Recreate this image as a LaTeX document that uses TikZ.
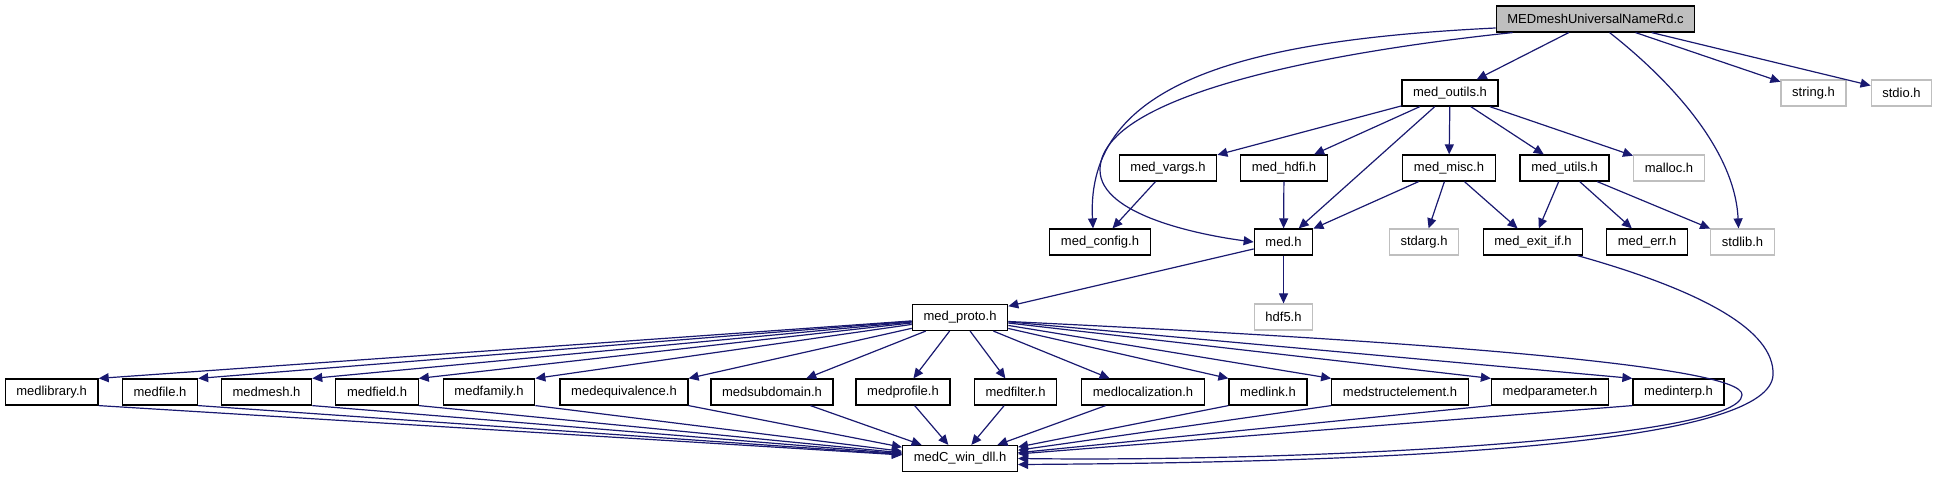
\documentclass[tikz,border=0pt]{standalone}
\usepackage{fontspec}
\setmainfont{Liberation Sans}
\usetikzlibrary{arrows.meta}
\definecolor{edgeblue}{HTML}{191970}
\definecolor{sysgray}{HTML}{BFBFBF}

\begin{document}
\begin{tikzpicture}[x=0.5pt,y=-0.5pt,>={Triangle[length=5pt,width=4.5pt]},
  box/.style={draw=black,line width=0.6pt,font=\fontsize{6.5}{7.5}\selectfont,
    inner xsep=5.6pt,inner ysep=0pt,minimum height=13pt},
  sysbox/.style={box,draw=sysgray},
  edge/.style={->,edgeblue,line width=0.6pt}]
  \useasboundingbox (0,0) rectangle (1937,485);
  \node[box,fill=sysgray] (root) at (1595.5,19) {MEDmeshUniversalNameRd.c};
  \node[box] (outils) at (1450,93) {med\_outils.h};
  \node[sysbox] (string) at (1813.5,93) {string.h};
  \node[sysbox] (stdio) at (1901.5,93) {stdio.h};
  \node[box] (vargs) at (1168,168) {med\_vargs.h};
  \node[box] (hdfi) at (1284,168) {med\_hdfi.h};
  \node[box] (misc) at (1449,168) {med\_misc.h};
  \node[box] (utils) at (1564.5,168) {med\_utils.h};
  \node[sysbox] (malloc) at (1669,168) {malloc.h};
  \node[box] (config) at (1100,242) {med\_config.h};
  \node[box] (med) at (1283.5,242) {med.h};
  \node[sysbox] (stdarg) at (1424,242) {stdarg.h};
  \node[box] (exitif) at (1533,242) {med\_exit\_if.h};
  \node[box] (err) at (1647,242) {med\_err.h};
  \node[sysbox] (stdlib) at (1742.5,242) {stdlib.h};
  \node[box] (proto) at (960,317.5) {med\_proto.h};
  \node[sysbox] (hdf) at (1283.5,317) {hdf5.h};
  \node[box] (dll) at (960,458.5) {medC\_win\_dll.h};
  \foreach \n/\x/\t in {library/51.6/medlibrary.h, file/160/medfile.h,
      mesh/266.5/medmesh.h, field/377/medfield.h, family/489/medfamily.h,
      equivalence/624/medequivalence.h, subdomain/772/medsubdomain.h,
      profile/903/medprofile.h, filter/1015.5/medfilter.h,
      localization/1143/medlocalization.h, link/1268/medlink.h,
      structelement/1400/medstructelement.h, parameter/1550/medparameter.h,
      interp/1678.5/medinterp.h}
    {\node[box] (\n) at (\x,392) {\t};}

  \draw[edge] ([yshift=-4.5pt]root.west) .. controls (1250,40) and (1085,80) .. ([xshift=-3.5pt]config.north);
  \draw[edge] ([xshift=8.5pt]root.south west) .. controls (1300,55) and (1100,100) .. (1100,170)
    .. controls (1100,215) and (1200,235) .. (med.west);
  \draw[edge] (root) -- (outils);
  \draw[edge] ([xshift=57pt]root.south west) .. controls (1670,80) and (1735,150) .. ([xshift=-2pt]stdlib.north);
  \draw[edge] (root) -- (string);
  \draw[edge] (root) -- (stdio);
  \foreach \n in {vargs,hdfi,med,misc,utils,malloc} {\draw[edge] (outils) -- (\n);}
  \draw[edge] (vargs) -- (config);
  \draw[edge] (hdfi) -- (med);
  \foreach \n in {med,stdarg,exitif} {\draw[edge] (misc) -- (\n);}
  \foreach \n in {exitif,err,stdlib} {\draw[edge] (utils) -- (\n);}
  \draw[edge] (med) -- (proto);
  \draw[edge] (med) -- (hdf);
  \draw[edge] ([xshift=-3pt]exitif.south east) .. controls (1700,290) and (1775,330) .. (1773,375)
    .. controls (1770,440) and (1450,462) .. ([yshift=-3pt]dll.east);
  \draw[edge] ([yshift=-2pt]proto.east) .. controls (1400,340) and (1745,365) .. (1742,395)
    .. controls (1740,440) and (1300,462) .. (dll.east);
  \foreach \n in {library,file,mesh,field,family,equivalence}
    {\draw[edge] (proto) -- (\n.north east); \draw[edge] (\n.south east) -- (dll);}
  \foreach \n in {subdomain,profile,filter,localization}
    {\draw[edge] (proto) -- (\n); \draw[edge] (\n) -- (dll);}
  \foreach \n in {link,structelement,parameter,interp}
    {\draw[edge] (proto) -- (\n.north west); \draw[edge] (\n.south west) -- (dll);}
\end{tikzpicture}
\end{document}
